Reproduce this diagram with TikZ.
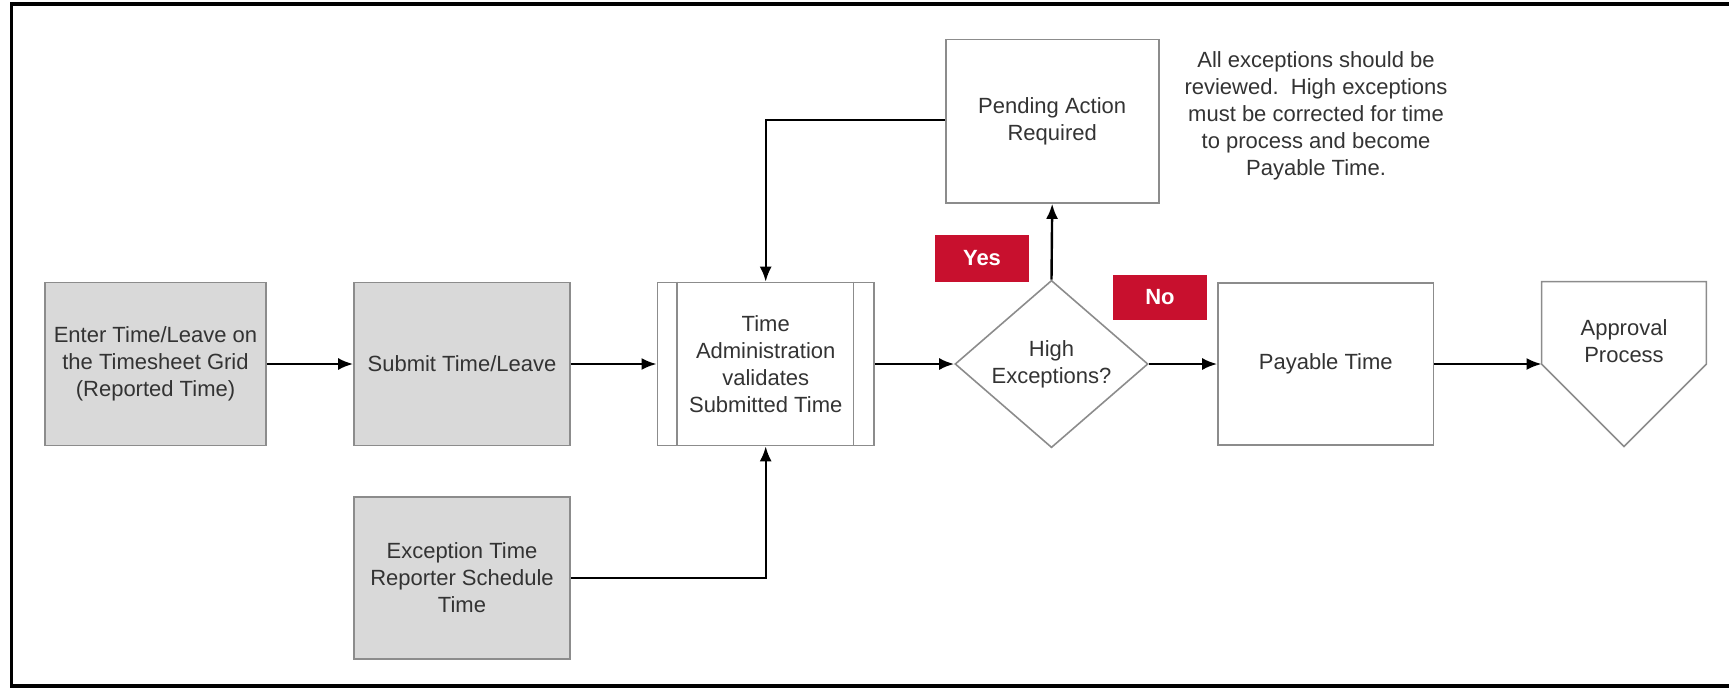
\documentclass[tikz,border=0pt]{standalone}
\usepackage{fontspec}
\setmainfont{Liberation Sans}
\usetikzlibrary{arrows.meta,shapes.geometric,calc}
\definecolor{boxgray}{HTML}{D9D9D9}
\definecolor{edgegray}{HTML}{8C8C8C}
\definecolor{txtgray}{HTML}{333333}
\definecolor{tagred}{HTML}{C8102E}
\begin{document}
\begin{tikzpicture}[x=0.5pt,y=-0.5pt,
  every node/.style={font=\fontsize{11}{13.5}\selectfont, text=txtgray, align=center, inner sep=0pt},
  procbox/.style={draw=edgegray, line width=0.8pt, rectangle},
  graybox/.style={procbox, fill=boxgray},
  tag/.style={fill=tagred, text=white, font=\fontsize{11}{13.5}\selectfont\bfseries, minimum width=47pt},
  flow/.style={draw=black, line width=1.2pt, -{Latex[length=7.5pt,width=6pt]}}
]
\useasboundingbox (0,0) rectangle (1729,691);
\draw[line width=1.8pt] (1745,4) -- (11.5,4) -- (11.5,686) -- (1745,686);

\node[graybox, minimum width=110.5pt, minimum height=81.5pt] (enter) at (155.5,364) {Enter Time/Leave on\\the Timesheet Grid\\(Reported Time)};
\node[graybox, minimum width=108pt, minimum height=81.5pt] (submit) at (462,364) {Submit Time/Leave};
\node[graybox, minimum width=108pt, minimum height=81pt] (exc) at (462,578) {Exception Time\\Reporter Schedule\\Time};
\node[procbox, minimum width=108.3pt, minimum height=81.5pt] (ta) at (765.7,364) {Time\\Administration\\validates\\Submitted Time};
\draw[edgegray, line width=0.8pt] ($(ta.north west)+(20.3,0)$) -- ($(ta.south west)+(20.3,0)$);
\draw[edgegray, line width=0.8pt] ($(ta.north east)+(-21.4,0)$) -- ($(ta.south east)+(-21.4,0)$);
\node[draw=edgegray, line width=0.8pt, diamond, minimum width=96.5pt, minimum height=80.5pt] (dia) at (1051.5,364) {High\\Exceptions?};
\node[procbox, minimum width=106.5pt, minimum height=81.7pt] (pend) at (1052.2,121.3) {Pending Action\\Required};
\node[procbox, minimum width=107.8pt, minimum height=81pt] (pay) at (1325.8,364) {Payable Time};
\node[minimum width=82pt, minimum height=82pt] (appr) at (1624,364) {};
\draw[edgegray, line width=0.8pt] (appr.west) -- (appr.north west) -- (appr.north east) -- (appr.east) -- (appr.south) -- cycle;
\node (apprtxt) at (1624,341) {Approval\\Process};
\node (note) at (1316,116) {All exceptions should be\\reviewed.\ \ High exceptions\\must be corrected for time\\to process and become\\Payable Time.};
\node[tag, minimum height=23.5pt] (yes) at (982,258.3) {Yes};
\node[tag, minimum height=22.5pt] (no) at (1160,297.5) {No};

\draw[flow] (enter.east) -- (submit.west);
\draw[flow] (submit.east) -- (ta.west);
\draw[flow] (exc.east) -| (ta.south);
\draw[flow] ($(pend.west)+(0,-1.5)$) -| (ta.north);
\draw[flow] (ta.east) -- (dia.west);
\draw[flow] (dia.north) -- (pend.south);
\draw[flow] (dia.east) -- (pay.west);
\draw[flow] (pay.east) -- (appr.west);
\end{tikzpicture}
\end{document}
